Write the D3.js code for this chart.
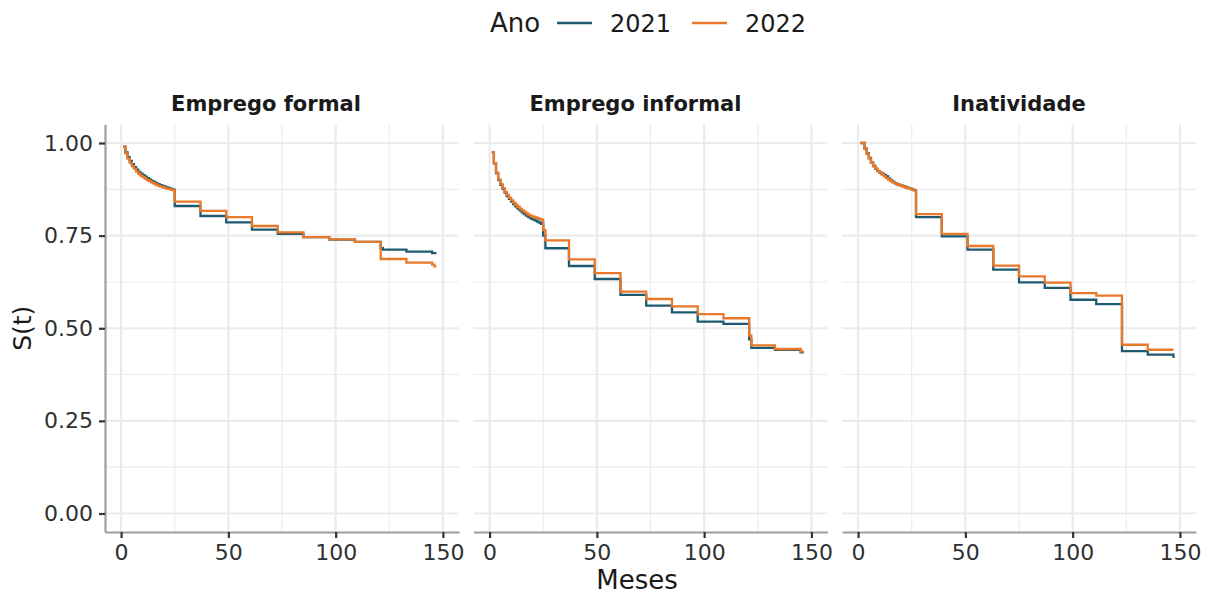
<!DOCTYPE html>
<html>
<head>
<meta charset="utf-8">
<script src="https://cdn.jsdelivr.net/npm/d3@7"></script>
<style>
  html, body { margin: 0; padding: 0; background: #fff; }
  svg text { font-family: "DejaVu Sans", sans-serif; }
</style>
</head>
<body>
<svg id="chart" width="1207" height="594"></svg>
<script>
// ---- Data ----
const panels = ["Emprego formal", "Emprego informal", "Inatividade"];
const years = ["2021", "2022"];
const xTicks = [0, 50, 100, 150];
const yTicks = [0, 0.25, 0.5, 0.75, 1];
const yTickLabels = ["0.00", "0.25", "0.50", "0.75", "1.00"];

// [month, S(t)] step points
const formal2021 = [[1,0.99],[2,0.975],[3,0.962],[4,0.952],[5,0.943],[6,0.935],[7,0.928],[8,0.922],[9,0.917],[10,0.913],[11,0.909],[12,0.905],[13,0.901],[14,0.898],[15,0.895],[16,0.892],[17,0.889],[18,0.886],[19,0.884],[20,0.882],[21,0.880],[22,0.878],[23,0.876],[24,0.874],[25,0.830],[37,0.803],[49,0.786],[61,0.766],[73,0.755],[85,0.746],[97,0.739],[109,0.733],[121,0.716],[122,0.712],[133,0.707],[145,0.703],[147,0.703]];
const formal2022 = [[1,0.99],[2,0.972],[3,0.958],[4,0.947],[5,0.938],[6,0.930],[7,0.923],[8,0.917],[9,0.912],[10,0.908],[11,0.904],[12,0.900],[13,0.897],[14,0.894],[15,0.891],[16,0.888],[17,0.885],[18,0.883],[19,0.881],[20,0.879],[21,0.877],[22,0.876],[23,0.874],[24,0.873],[25,0.842],[37,0.817],[49,0.800],[61,0.776],[73,0.759],[85,0.746],[97,0.740],[109,0.733],[121,0.687],[133,0.677],[145,0.672],[146,0.667],[147,0.667]];
const informal2021 = [[1,0.975],[2,0.945],[3,0.918],[4,0.900],[5,0.887],[6,0.876],[7,0.866],[8,0.857],[9,0.849],[10,0.842],[11,0.835],[12,0.829],[13,0.823],[14,0.818],[15,0.813],[16,0.808],[17,0.804],[18,0.800],[19,0.797],[20,0.794],[21,0.791],[22,0.788],[23,0.785],[24,0.782],[25,0.750],[26,0.716],[37,0.668],[49,0.633],[61,0.590],[73,0.561],[85,0.543],[97,0.518],[109,0.512],[121,0.470],[122,0.447],[133,0.442],[145,0.435],[146,0.432]];
const informal2022 = [[1,0.975],[2,0.946],[3,0.920],[4,0.902],[5,0.889],[6,0.878],[7,0.868],[8,0.860],[9,0.852],[10,0.845],[11,0.839],[12,0.833],[13,0.828],[14,0.823],[15,0.818],[16,0.814],[17,0.810],[18,0.806],[19,0.803],[20,0.801],[21,0.799],[22,0.797],[23,0.795],[24,0.793],[25,0.765],[26,0.737],[37,0.686],[49,0.649],[61,0.599],[73,0.579],[85,0.559],[97,0.538],[109,0.527],[121,0.480],[122,0.454],[133,0.444],[145,0.437],[146,0.434]];
const inativ2021 = [[1,1.0],[3,0.985],[4,0.972],[5,0.960],[6,0.948],[7,0.938],[8,0.930],[9,0.924],[10,0.920],[11,0.917],[12,0.914],[13,0.910],[14,0.904],[15,0.899],[16,0.895],[17,0.892],[18,0.889],[19,0.887],[20,0.885],[21,0.883],[22,0.881],[23,0.879],[24,0.877],[25,0.875],[26,0.873],[27,0.800],[39,0.748],[51,0.712],[63,0.658],[75,0.624],[87,0.609],[99,0.577],[111,0.565],[123,0.438],[135,0.429],[147,0.420]];
const inativ2022 = [[1,1.0],[3,0.985],[4,0.970],[5,0.958],[6,0.947],[7,0.938],[8,0.931],[9,0.925],[10,0.920],[11,0.915],[12,0.910],[13,0.905],[14,0.901],[15,0.897],[16,0.894],[17,0.891],[18,0.888],[19,0.886],[20,0.884],[21,0.882],[22,0.880],[23,0.878],[24,0.876],[25,0.874],[26,0.872],[27,0.808],[39,0.755],[51,0.722],[63,0.669],[75,0.640],[87,0.623],[99,0.595],[111,0.588],[123,0.4555],[135,0.442],[147,0.442]];

const seriesByPanel = [
  [formal2021, formal2022],
  [informal2021, informal2022],
  [inativ2021, inativ2022]
];

// ---- Style / layout ----
const colors = {"2021": "#1d5a72", "2022": "#e8782a"};
const panelLeft0 = 105, panelW = 354, panelStep = 368.5;
const panelTop = 124.5, panelBottom = 532;
const stripOffsets = [-16, -15, 0];

const svg = d3.select("#chart");

const x = d3.scaleLinear().domain([-7.5, 157.5]).range([0, panelW]);
const y = d3.scaleLinear().domain([-0.05, 1.05]).range([panelBottom - panelTop, 0]);

const gridColor = "#ebebeb";
const line = d3.line().x(d => x(d[0])).y(d => y(d[1])).curve(d3.curveStepAfter);

panels.forEach((name, i) => {
  const g = svg.append("g").attr("transform", `translate(${panelLeft0 + i * panelStep},${panelTop})`);
  const h = panelBottom - panelTop;

  // minor grid
  const xMinor = [25, 75, 125];
  const yMinor = [0.125, 0.375, 0.625, 0.875];
  g.selectAll(".xminor").data(xMinor).enter().append("line")
    .attr("x1", d => x(d)).attr("x2", d => x(d)).attr("y1", 0).attr("y2", h)
    .attr("stroke", gridColor).attr("stroke-width", 1.1);
  g.selectAll(".yminor").data(yMinor).enter().append("line")
    .attr("x1", 0).attr("x2", panelW).attr("y1", d => y(d)).attr("y2", d => y(d))
    .attr("stroke", gridColor).attr("stroke-width", 1.1);
  // major grid
  g.selectAll(".xmajor").data(xTicks).enter().append("line")
    .attr("x1", d => x(d)).attr("x2", d => x(d)).attr("y1", 0).attr("y2", h)
    .attr("stroke", gridColor).attr("stroke-width", 2.2);
  g.selectAll(".ymajor").data(yTicks).enter().append("line")
    .attr("x1", 0).attr("x2", panelW).attr("y1", d => y(d)).attr("y2", d => y(d))
    .attr("stroke", gridColor).attr("stroke-width", 2.2);

  // strip title
  g.append("text").attr("x", panelW / 2 + stripOffsets[i]).attr("y", -14)
    .attr("text-anchor", "middle").attr("font-size", 21).attr("font-weight", "bold")
    .attr("fill", "#1a1a1a").text(name);

  // curves
  seriesByPanel[i].forEach((data, j) => {
    g.append("path").datum(data).attr("d", line)
      .attr("fill", "none").attr("stroke", colors[years[j]]).attr("stroke-width", 2.3);
  });

  // x axis
  const xAxis = g.append("g").attr("transform", `translate(0,${h})`)
    .call(d3.axisBottom(x).tickValues(xTicks).tickSize(6).tickPadding(6).tickSizeOuter(0));
  xAxis.select(".domain").attr("stroke", "#9e9e9e").attr("stroke-width", 2.2);
  xAxis.selectAll(".tick line").attr("stroke", "#333").attr("stroke-width", 2.2);
  xAxis.selectAll(".tick text").attr("font-size", 22).attr("fill", "#303030")
    .attr("font-family", "DejaVu Sans, sans-serif");

  if (i === 0) {
    const yAxis = g.append("g")
      .call(d3.axisLeft(y).tickValues(yTicks).tickFormat((d, k) => yTickLabels[k]).tickSize(6).tickPadding(6).tickSizeOuter(0));
    yAxis.select(".domain").attr("stroke", "#9e9e9e").attr("stroke-width", 2.2);
    yAxis.selectAll(".tick line").attr("stroke", "#333").attr("stroke-width", 2.2);
    yAxis.selectAll(".tick text").attr("font-size", 22).attr("fill", "#303030")
      .attr("font-family", "DejaVu Sans, sans-serif");
  }
});

// axis titles
svg.append("text").attr("x", 637).attr("y", 589)
  .attr("text-anchor", "middle").attr("font-size", 26).attr("fill", "#1a1a1a").text("Meses");
svg.append("text").attr("transform", `translate(31,${(panelTop + panelBottom) / 2}) rotate(-90)`)
  .attr("text-anchor", "middle").attr("font-size", 25).attr("fill", "#1a1a1a").text("S(t)");

// legend
const legY = 23;
const leg = svg.append("g");
leg.append("text").attr("x", 490).attr("y", legY).attr("dy", "0.36em")
  .attr("font-size", 26).attr("fill", "#1a1a1a").text("Ano");
const legItems = [{k: "2021", x1: 557, tx: 610}, {k: "2022", x1: 692, tx: 745}];
legItems.forEach(it => {
  leg.append("line").attr("x1", it.x1).attr("x2", it.x1 + 35).attr("y1", legY).attr("y2", legY)
    .attr("stroke", colors[it.k]).attr("stroke-width", 2.4);
  leg.append("text").attr("x", it.tx).attr("y", legY).attr("dy", "0.36em")
    .attr("font-size", 24).attr("fill", "#1a1a1a").text(it.k);
});
</script>
</body>
</html>
